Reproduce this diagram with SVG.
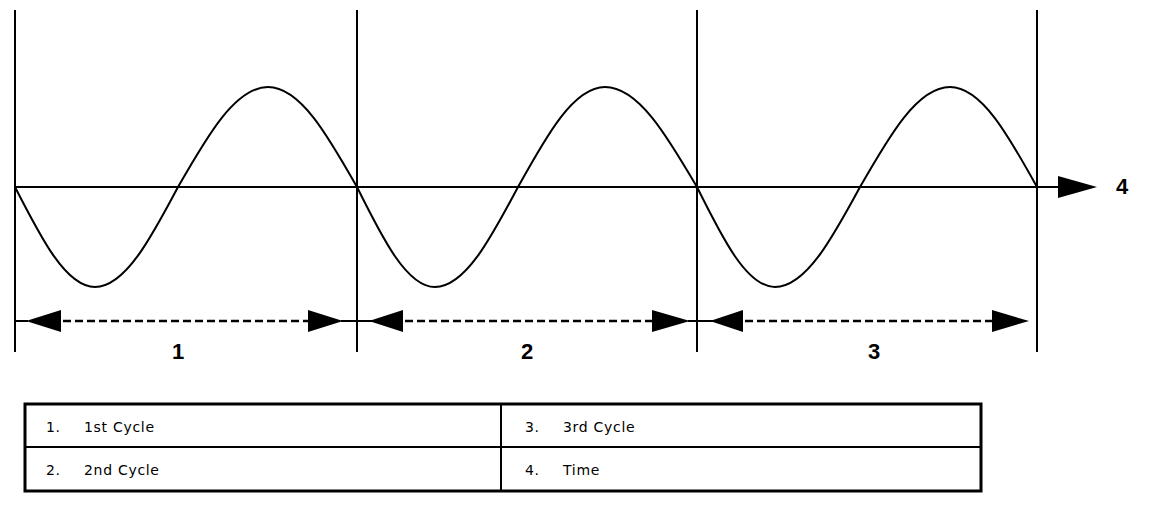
<svg xmlns="http://www.w3.org/2000/svg" width="1152" height="524" viewBox="0 0 1152 524">
<style>
.ln{stroke:#000;stroke-width:2;fill:none}
.wave{stroke:#000;stroke-width:2;fill:none}
.dash{stroke:#000;stroke-width:2.5;fill:none;stroke-dasharray:8 4}
.head{fill:#000}
.num{font-family:"Liberation Sans",Arial,sans-serif;font-weight:bold;font-size:22px;fill:#000;text-anchor:middle}
.cell{font-family:"DejaVu Sans",Verdana,sans-serif;font-size:14px;letter-spacing:0.7px;fill:#000}
.box{stroke:#000;stroke-width:3;fill:#fff}
</style>
<rect width="1152" height="524" fill="#fff"/>
<g id="gridlines">
<line class="ln" x1="15" y1="10" x2="15" y2="352"/>
<line class="ln" x1="357" y1="10" x2="357" y2="352"/>
<line class="ln" x1="697" y1="10" x2="697" y2="352"/>
<line class="ln" x1="1037" y1="10" x2="1037" y2="352"/>
</g>
<g id="wave">
<path class="wave" d="M15,187 C41.1,238.2 66,287 95,287 C125,287 150.9,238.2 178,187 C207.3,135.8 235.4,87 268,87 C300.2,87 328,135.8 357,187
C382.4,238.2 406.8,287 435,287 C465,287 490.9,238.2 518,187 C546.4,135.8 573.5,87 605,87 C638.3,87 667,135.8 697,187
C722.4,238.2 746.8,287 775,287 C805.8,287 832.3,238.2 860,187 C889.3,135.8 917.4,87 950,87 C981.5,87 1008.6,135.8 1037,187"/>
</g>
<g id="connectors">
<line class="ln" x1="15" y1="187" x2="1060" y2="187" stroke-width="2.5"/>
<polygon class="head" points="1058,176 1097,187 1058,198"/>
<line class="ln" x1="15" y1="321" x2="28" y2="321"/>
<polygon class="head" points="26,321 61,310 61,332"/>
<line class="dash" x1="63" y1="321" x2="308" y2="321"/>
<polygon class="head" points="308,310 343,321 308,332"/>
<line class="ln" x1="341" y1="321" x2="372" y2="321"/>
<polygon class="head" points="369,321 403,310 403,332"/>
<line class="dash" x1="405" y1="321" x2="652" y2="321"/>
<polygon class="head" points="652,310 690,321 652,332"/>
<line class="ln" x1="688" y1="321" x2="713" y2="321"/>
<polygon class="head" points="710,321 743,310 743,332"/>
<line class="dash" x1="745" y1="321" x2="992" y2="321"/>
<polygon class="head" points="992,310 1029,321 992,332"/>
</g>
<g id="labels">
<text class="num" x="178" y="359">1</text>
<text class="num" x="527" y="359">2</text>
<text class="num" x="874" y="359">3</text>
<text class="num" x="1122" y="194">4</text>
</g>
<g id="legend">
<rect class="box" x="25" y="404" width="956" height="87"/>
<line class="ln" x1="25" y1="447" x2="981" y2="447" stroke-width="3"/>
<line class="ln" x1="501" y1="404" x2="501" y2="491" stroke-width="3"/>
<text class="cell" x="46" y="432">1.</text>
<text class="cell" x="84" y="432">1st Cycle</text>
<text class="cell" x="46" y="475">2.</text>
<text class="cell" x="84" y="475">2nd Cycle</text>
<text class="cell" x="525" y="432">3.</text>
<text class="cell" x="563" y="432">3rd Cycle</text>
<text class="cell" x="525" y="475">4.</text>
<text class="cell" x="563" y="475">Time</text>
</g>
</svg>
